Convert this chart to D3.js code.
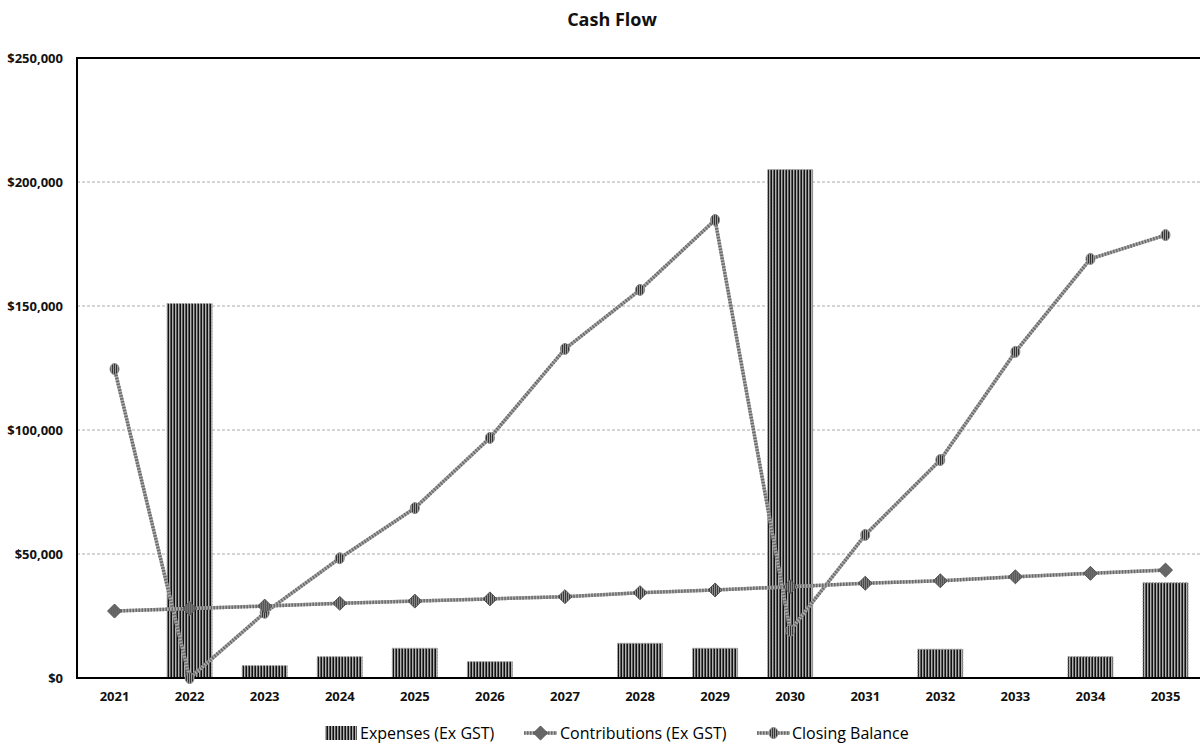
<!DOCTYPE html>
<html>
<head>
<meta charset="utf-8">
<script src="https://cdn.jsdelivr.net/npm/d3@7"></script>
<style>
  html, body { margin: 0; padding: 0; background: #fff; }
  svg { display: block; }
  text { font-family: "Liberation Sans Narrow", "Open Sans", "Noto Sans", sans-serif; }
</style>
</head>
<body>
<script>
// Cash flow by year
const years = ["2021","2022","2023","2024","2025","2026","2027","2028","2029","2030","2031","2032","2033","2034","2035"];
const expenses = [0, 151000, 5000, 8600, 12000, 6600, 0, 14000, 12000, 205000, 0, 11600, 0, 8600, 38400];
const contributions = [27000, 28000, 29000, 30100, 31000, 31900, 32800, 34400, 35500, 36800, 38200, 39200, 40800, 42200, 43500];
const closingBalance = [124600, 0, 26300, 48300, 68500, 96800, 132700, 156500, 184700, 19100, 57700, 87900, 131500, 169000, 178600];
const yTicks = [0, 50000, 100000, 150000, 200000, 250000];
const seriesNames = ["Expenses (Ex GST)", "Contributions (Ex GST)", "Closing Balance"];

const W = 1200, H = 745;
const plotLeft = 77, plotTop = 58, plotBottom = 678;
const bandStep = 75.07;

const svg = d3.select("body").append("svg").attr("width", W).attr("height", H);
const defs = svg.append("defs");

// vertical stripe fill for the expense bars
const bp = defs.append("pattern").attr("id", "barStripe").attr("patternUnits", "userSpaceOnUse")
  .attr("width", 3).attr("height", 4);
bp.append("rect").attr("width", 3).attr("height", 4).attr("fill", "#5a5a5a");
bp.append("rect").attr("width", 1).attr("height", 4).attr("fill", "#111");
bp.append("rect").attr("x", 1).attr("width", 1).attr("height", 4).attr("fill", "#b0b0b0");

// stripe fill for the markers
const mp = defs.append("pattern").attr("id", "markStripe").attr("patternUnits", "userSpaceOnUse")
  .attr("width", 2).attr("height", 2);
mp.append("rect").attr("width", 2).attr("height", 2).attr("fill", "#999");
mp.append("rect").attr("width", 1).attr("height", 2).attr("fill", "#333");

const x = d3.scaleBand().domain(years)
  .range([plotLeft, plotLeft + bandStep * years.length]).paddingInner(0.4).paddingOuter(0.2);
const y = d3.scaleLinear().domain([0, 250000]).range([plotBottom, plotTop]);

// title
svg.append("text").attr("x", 612).attr("y", 26).attr("text-anchor", "middle")
  .attr("font-size", 18).attr("font-weight", "bold").attr("fill", "#111").text("Cash Flow");

// gridlines
svg.append("g").selectAll("line").data(yTicks.filter(t => t > 0 && t < 250000)).join("line")
  .attr("x1", plotLeft).attr("x2", W).attr("y1", d => y(d)).attr("y2", d => y(d))
  .attr("stroke", "#aaa").attr("stroke-width", 1).attr("stroke-dasharray", "3,2");

// y axis
const yAxis = svg.append("g").attr("transform", `translate(${plotLeft},0)`)
  .call(d3.axisLeft(y).tickValues(yTicks).tickSize(0).tickPadding(14)
    .tickFormat(d => "$" + d3.format(",")(d)));
yAxis.select(".domain").remove();
yAxis.selectAll("text").attr("font-size", 13).attr("font-weight", "bold").attr("fill", "#111")
  .style("font-family", '"Liberation Sans Narrow", "Open Sans", sans-serif');

// x axis labels
const xAxis = svg.append("g").attr("transform", `translate(0,${plotBottom})`)
  .call(d3.axisBottom(x).tickSize(0).tickPadding(14));
xAxis.select(".domain").remove();
xAxis.selectAll("text").attr("font-size", 13).attr("font-weight", "bold").attr("fill", "#111")
  .style("font-family", '"Liberation Sans Narrow", "Open Sans", sans-serif');

// bars
svg.append("g").selectAll("rect").data(years.map((yr, i) => ({ yr, v: expenses[i] })).filter(d => d.v > 0))
  .join("rect")
  .attr("x", d => x(d.yr)).attr("width", x.bandwidth())
  .attr("y", d => y(d.v)).attr("height", d => y(0) - y(d.v))
  .attr("fill", "url(#barStripe)").attr("stroke", "#999").attr("stroke-width", 1)
  .attr("stroke-dasharray", "2,1");

// frame: top, left, bottom
svg.append("line").attr("x1", plotLeft).attr("x2", W).attr("y1", plotTop).attr("y2", plotTop)
  .attr("stroke", "#000").attr("stroke-width", 2);
svg.append("line").attr("x1", plotLeft).attr("x2", plotLeft).attr("y1", plotTop - 1).attr("y2", plotBottom + 1)
  .attr("stroke", "#000").attr("stroke-width", 2);
svg.append("line").attr("x1", plotLeft).attr("x2", W).attr("y1", plotBottom).attr("y2", plotBottom)
  .attr("stroke", "#000").attr("stroke-width", 2);

const cx = yr => x(yr) + x.bandwidth() / 2;
const lineGen = d3.line().x(d => cx(d.yr)).y(d => y(d.v));

function drawLine(values) {
  const data = years.map((yr, i) => ({ yr, v: values[i] }));
  const g = svg.append("g");
  g.append("path").datum(data).attr("d", lineGen).attr("fill", "none")
    .attr("stroke", "#ababab").attr("stroke-width", 3.5);
  g.append("path").datum(data).attr("d", lineGen).attr("fill", "none")
    .attr("stroke", "#6a6a6a").attr("stroke-width", 3.5).attr("stroke-dasharray", "1.5,1.5");
  return { g, data };
}

// closing balance line with round markers
const cb = drawLine(closingBalance);
cb.g.selectAll("ellipse").data(cb.data).join("ellipse")
  .attr("cx", d => cx(d.yr)).attr("cy", d => y(d.v)).attr("rx", 4.5).attr("ry", 5.5)
  .attr("fill", "url(#markStripe)").attr("stroke", "#888").attr("stroke-width", 1);

// contributions line with diamond markers
const ct = drawLine(contributions);
const diamond = d3.symbol().type(d3.symbolDiamond2).size(125);
ct.g.selectAll("path.mk").data(ct.data).join("path").attr("class", "mk")
  .attr("transform", d => `translate(${cx(d.yr)},${y(d.v)})`)
  .attr("d", diamond)
  .attr("fill", "url(#markStripe)").attr("stroke", "#555").attr("stroke-width", 1);

// legend
const lg = svg.append("g").attr("transform", "translate(0,733)");
lg.append("rect").attr("x", 325).attr("y", -7).attr("width", 32).attr("height", 14)
  .attr("fill", "url(#barStripe)");
lg.append("text").attr("x", 360).attr("y", 5.5).attr("font-size", 16).attr("fill", "#000")
  .text(seriesNames[0]);

function legendLine(x0) {
  lg.append("line").attr("x1", x0).attr("x2", x0 + 33).attr("y1", 0).attr("y2", 0)
    .attr("stroke", "#ababab").attr("stroke-width", 3.5);
  lg.append("line").attr("x1", x0).attr("x2", x0 + 33).attr("y1", 0).attr("y2", 0)
    .attr("stroke", "#6a6a6a").attr("stroke-width", 3.5).attr("stroke-dasharray", "1.5,1.5");
}
legendLine(524);
lg.append("path").attr("transform", "translate(540.5,0)").attr("d", diamond)
  .attr("fill", "url(#markStripe)").attr("stroke", "#555").attr("stroke-width", 1);
lg.append("text").attr("x", 560).attr("y", 5.5).attr("font-size", 16).attr("fill", "#000")
  .text(seriesNames[1]);

legendLine(757);
lg.append("ellipse").attr("cx", 773.5).attr("cy", 0).attr("rx", 4.5).attr("ry", 5.5)
  .attr("fill", "url(#markStripe)").attr("stroke", "#888").attr("stroke-width", 1);
lg.append("text").attr("x", 792).attr("y", 5.5).attr("font-size", 16).attr("fill", "#000")
  .text(seriesNames[2]);
</script>
</body>
</html>
